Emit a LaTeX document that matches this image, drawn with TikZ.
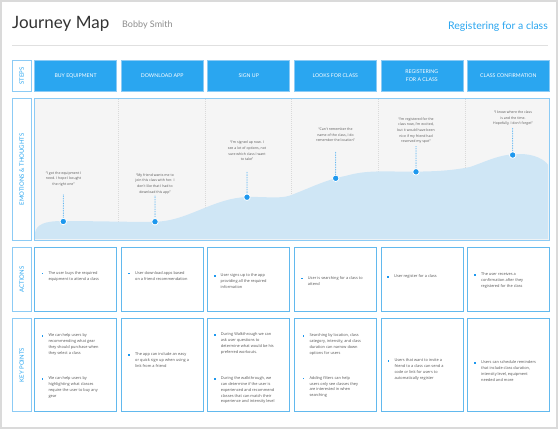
\documentclass[tikz,border=0pt]{standalone}
\usepackage{fontspec}
\usetikzlibrary{decorations.markings}
\setmainfont{Lato}
\newfontfamily\qfont{Open Sans}
\definecolor{stepblue}{HTML}{2AA6F0}
\definecolor{lblblue}{HTML}{8CCBF5}
\definecolor{boxblue}{HTML}{62B9EE}
\definecolor{wave}{HTML}{CFE6F5}
\definecolor{emobg}{HTML}{F5F5F5}
\definecolor{dotblue}{HTML}{1E98EE}
\definecolor{stemblue}{HTML}{3FA9F2}
\definecolor{txtgray}{HTML}{555555}
\definecolor{framegray}{HTML}{DADADA}
\begin{document}
\begin{tikzpicture}[x=1pt,y=-1pt,
  lblbox/.style={draw=lblblue,line width=1pt,fill=white},
  stepbox/.style={fill=stepblue,draw=lblblue,line width=0.6pt},
  cardbox/.style={draw=boxblue,line width=1pt,fill=white},
  lbltext/.style={rotate=90,text=stepblue,font=\fontsize{6}{7}\selectfont},
  steptext/.style={text=white,align=center,font=\fontsize{5.2}{7.5}\selectfont},
  quote/.style={align=center,text=txtgray,inner sep=0pt,anchor=north,font=\qfont\fontsize{3.5}{5.7}\selectfont},
  btext/.style={align=left,text=txtgray,inner sep=0pt,anchor=west,font=\qfont\fontsize{3.9}{5.8}\selectfont},
  bul/.style={fill=dotblue,minimum size=1.6pt,inner sep=0pt},
  sep/.style={draw=black!15,dash pattern=on 1pt off 1pt,line width=0.4pt},
  emodot/.style={circle,fill=dotblue,draw=white,line width=0.8pt,minimum size=6.5pt,inner sep=0pt},
  stem/.style={decoration={markings,mark=between positions 0 and 1 step 1.7pt with {\fill[stemblue] (0,0) circle (0.5pt);}},decorate}
]
\useasboundingbox (0,0) rectangle (560,432);
\fill[white] (0,0) rectangle (560,432);
\draw[framegray,line width=1.5pt] (0.75,0.75) rectangle (557,428);
% header
\node[anchor=base west,inner sep=0pt,text=black!80,font=\fontsize{17}{20}\selectfont] (title) at (12,28) {Journey Map};
\node[anchor=base west,inner sep=0pt,text=black!45,font=\fontsize{9}{11}\selectfont] (author) at (122,27) {Bobby Smith};
\node[anchor=base east,inner sep=0pt,text=stepblue,font=\fontsize{10.5}{12}\selectfont] (subject) at (548,29) {Registering for a class};
\draw[black!12,line width=0.8pt] (12,45) -- (548,45);
% row labels
\node[lblbox,minimum width=18.7pt,minimum height=30.7pt,anchor=north west] (lsteps) at (12,60) {};
\node[lbltext] at (lsteps.center) {STEPS};
\node[lblbox,minimum width=18.7pt,minimum height=141.2pt,anchor=north west] (lemo) at (12,98.3) {};
\node[lbltext] at (lemo.center) {EMOTIONS \& THOUGHTS};
\node[lblbox,minimum width=18.7pt,minimum height=64.3pt,anchor=north west] (lact) at (12,246.7) {};
\node[lbltext] at (lact.center) {ACTIONS};
\node[lblbox,minimum width=18.7pt,minimum height=92.7pt,anchor=north west] (lkey) at (12,318.3) {};
\node[lbltext] at (lkey.center) {KEY POINTS};
% steps
\foreach \i/\t in {0/BUY EQUIPMENT,1/DOWNLOAD APP,2/SIGN UP,3/LOOKS FOR CLASS,4/{REGISTERING\\FOR A CLASS},5/CLASS CONFIRMATION}{
  \node[stepbox,minimum width=82pt,minimum height=30.7pt,anchor=north west] (s\i) at ({34.3+86.55*\i},60) {};
  \node[steptext] at (s\i.center) {\t};
}
% emotions panel
\node[draw=lblblue,fill=emobg,line width=1pt,minimum width=514.4pt,minimum height=141.2pt,anchor=north west,inner sep=0pt] (emo) at (34.3,98.3) {};
\foreach \x in {118.5,205,291.6,378.2,464.7}{
  \draw[sep] (\x,99) -- (\x,239);
}
\fill[wave] (34.8,239) -- (34.8,234) .. controls (36,224) and (45,221) .. (63,221)
  .. controls (100,221) and (140,222.5) .. (160,221.5)
  .. controls (190,219) and (215,198) .. (247,197)
  .. controls (265,196.5) and (280,199) .. (290,195.5)
  .. controls (310,188) and (325,180) .. (345,176)
  .. controls (360,172) and (370,171) .. (395,171.5)
  .. controls (430,172) and (450,171) .. (470,167)
  .. controls (490,160) and (500,154) .. (520,154)
  .. controls (535,154) and (545,160) .. (548.2,165) -- (548.2,239) -- cycle;
\draw[lblblue,line width=1pt] (emo.north west) rectangle (emo.south east);
% quotes
\node[quote] (q1) at (63.5,171.3) {“I got the equipment I\\need. I hope I bought\\the right one”};
\node[quote] (q2) at (155,173.3) {“My friend wants me to\\join this class with her. I\\don't like that I had to\\download this app”};
\node[quote] (q3) at (247,140.8) {“I'm signed up now. I\\see a lot of options, not\\sure which class I want\\to take”};
\node[quote] (q4) at (335.5,127.5) {“Can't remember the\\name of the class, I do\\remember the location”};
\node[quote] (q5) at (416,117.2) {“I'm registered for the\\class now, I'm excited,\\but it would have been\\nice if my friend had\\reserved my spot”};
\node[quote] (q6) at (513,110.5) {“I know where the class\\is and the time.\\Hopefully, I don't forget”};
\coordinate (t1) at (63.3,195); \node[emodot] (d1) at (63.3,221.5) {};
\coordinate (t2) at (155,196); \node[emodot] (d2) at (155,221.7) {};
\coordinate (t3) at (247,172.3); \node[emodot] (d3) at (247,197.2) {};
\coordinate (t4) at (335.7,152.3); \node[emodot] (d4) at (335.7,178.3) {};
\coordinate (t5) at (416,146.7); \node[emodot] (d5) at (416,171.8) {};
\coordinate (t6) at (512.7,128.3); \node[emodot] (d6) at (512.7,155) {};
\foreach \i in {1,...,6}{ \path[stem] (t\i) -- (d\i.north); }
% cards
\foreach \i in {0,...,5}{
  \node[cardbox,minimum width=82pt,minimum height=64.3pt,anchor=north west] (a\i) at ({34.3+86.55*\i},246.7) {};
  \node[cardbox,minimum width=82pt,minimum height=92.7pt,anchor=north west] (k\i) at ({34.3+86.55*\i},318.3) {};
}
% bullet items
\newcommand{\bitem}[4]{%
  \node[bul] (#1b) at ({#2-5.8},#3) {};
  \node[btext,anchor=north west] (#1) at (#2,{#3-2.2}) {#4};}
\bitem{A1}{48.3}{273.3}{The user buys the required\\equipment to attend a class}
\bitem{A2}{135}{273.3}{User download apps based\\on a friend recommendation}
\bitem{A3}{220.5}{275.7}{User signs up to the app\\providing all the required\\information}
\bitem{A4}{307.7}{278.3}{User is searching for a class to\\attend}
\bitem{A5}{394}{276.7}{User register for a class}
\bitem{A6}{481}{274.7}{The user receives a\\confirmation after they\\registered for the class}
\bitem{K1a}{48.3}{335.7}{We can help users by\\recommending what gear\\they should purchase when\\they select a class}
\bitem{K1b}{48.3}{378.7}{We can help users by\\highlighting what classes\\require the user to buy any\\gear}
\bitem{K2}{135}{355}{The app can include an easy\\or quick sign up when using a\\link from a friend}
\bitem{K3a}{220.7}{335}{During Walkthrough we can\\ask user questions to\\determine what would be his\\preferred workouts.}
\bitem{K3b}{220.7}{378.7}{During the walkthrough, we\\can determine if the user is\\experienced and recommend\\classes that can match their\\experience and intensity level}
\bitem{K4a}{309.3}{335.7}{Searching by location, class\\category, intensity, and class\\duration can narrow down\\options for users}
\bitem{K4b}{309.3}{378.3}{Adding filters can help\\users only see classes they\\are interested in when\\searching}
\bitem{K5}{394.3}{360.7}{Users that want to invite a\\friend to a class can send a\\code or link for users to\\automatically register}
\bitem{K6}{481}{362.7}{Users can schedule reminders\\that include class duration,\\intensity level, equipment\\needed and more}
\end{tikzpicture}
\end{document}
